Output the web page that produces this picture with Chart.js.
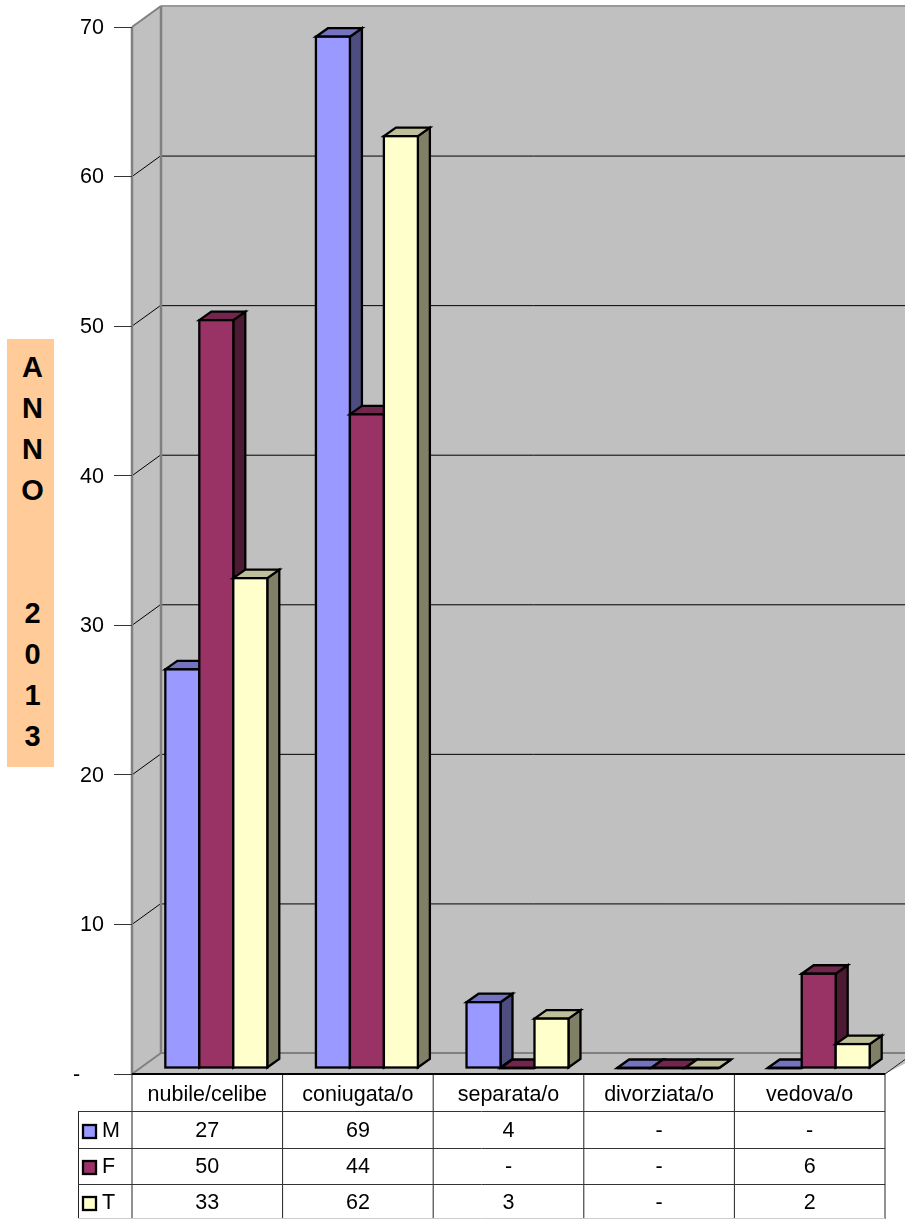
<!DOCTYPE html>
<html>
<head>
<meta charset="utf-8">
<title>Anno 2013</title>
<script src="https://cdn.jsdelivr.net/npm/chart.js@4"></script>
<style>
  html, body { margin: 0; padding: 0; background: #fff; overflow: hidden; }
  #wrap { position: relative; width: 905px; height: 1219px; }
  #chart { position: absolute; left: 0; top: 0; }
  #anno {
    position: absolute; left: 7px; top: 339px; width: 47px; height: 428px;
    background: #FFCC99; color: #000; text-align: center;
    font: bold 29px "Liberation Sans", Arial, sans-serif; line-height: 41px;
    white-space: pre-line; box-sizing: border-box; padding-top: 8px; padding-left: 4px;
  }
</style>
</head>
<body>
<div id="wrap">
  <canvas id="chart" width="905" height="1219"></canvas>
  <div id="anno">A
N
N
O


2
0
1
3</div>
</div>
<script>
/* values */
const categories = ['nubile/celibe', 'coniugata/o', 'separata/o', 'divorziata/o', 'vedova/o'];
const valuesM = [26.65, 68.95, 4.4, 0, 0];
const valuesF = [50, 43.7, 0, 0, 6.3];
const valuesT = [32.75, 62.3, 3.3, 0, 1.6];

/* rounded values printed in the table under the chart */
const tableM = ['27', '69', '4', '-', '-'];
const tableF = ['50', '44', '-', '-', '6'];
const tableT = ['33', '62', '3', '-', '2'];

const yTickLabels = ['-    ', '10', '20', '30', '40', '50', '60', '70'];

const FONT = '"Liberation Sans", Arial, sans-serif';
const FONT_SIZE = 21.5;

// depth of the box and of the bars
const WALL_DX = 29, WALL_DY = 21;
const BAR_SHIFT_X = 9, BAR_SHIFT_Y = 6;
const BAR_DX = 12, BAR_DY = 8.5;
const BAR_LINE = 2.3;

const seriesStyle = [
  { name: 'M', front: '#9999FF', top: '#7373BF', side: '#4D4D80', table: tableM },
  { name: 'F', front: '#993366', top: '#73264D', side: '#4D1A33', table: tableF },
  { name: 'T', front: '#FFFFCC', top: '#BFBF99', side: '#808066', table: tableT }
];

function poly(c, pts, fill, stroke, lw) {
  c.beginPath();
  pts.forEach((p, i) => i ? c.lineTo(p[0], p[1]) : c.moveTo(p[0], p[1]));
  c.closePath();
  if (fill) { c.fillStyle = fill; c.fill(); }
  if (stroke) { c.strokeStyle = stroke; c.lineWidth = lw; c.stroke(); }
}

function line(c, x1, y1, x2, y2, color, lw) {
  c.beginPath();
  c.moveTo(x1, y1);
  c.lineTo(x2, y2);
  c.strokeStyle = color;
  c.lineWidth = lw;
  c.stroke();
}

/* grey box behind the bars: left wall, back wall, floor and grid */
const boxPlugin = {
  id: 'box',
  beforeDraw(chart) {
    const c = chart.ctx, a = chart.chartArea, y = chart.scales.y;
    const bx = a.left + WALL_DX, W = chart.width + 20;
    c.save();
    poly(c, [[a.left, a.top], [bx, a.top - WALL_DY], [W, a.top - WALL_DY], [W, a.bottom - WALL_DY],
             [a.right, a.bottom], [a.left, a.bottom]], '#C0C0C0');
    y.ticks.forEach(t => {
      if (t.value === 0 || t.value === 70) return;
      const py = y.getPixelForValue(t.value);
      line(c, a.left, py, bx, py - WALL_DY, '#000', 1);
      line(c, bx, py - WALL_DY + 0.5, W, py - WALL_DY + 0.5, '#000', 1);
    });
    line(c, a.left, a.bottom, a.left, a.top, '#808080', 2.5);
    line(c, a.left, a.top, bx, a.top - WALL_DY, '#808080', 2);
    line(c, bx, a.top - WALL_DY, W, a.top - WALL_DY, '#999', 2);
    line(c, bx, a.top - WALL_DY, bx, a.bottom - WALL_DY, '#808080', 2.5);
    line(c, a.left, a.bottom, bx, a.bottom - WALL_DY, '#808080', 2);
    line(c, bx, a.bottom - WALL_DY, W, a.bottom - WALL_DY, '#808080', 2);
    line(c, a.right, a.bottom, a.right + WALL_DX, a.bottom - WALL_DY, '#222', 1);
    c.restore();
  }
};

/* extruded bars. The library paints datasets last-to-first, but here a bar has
   to cover the side of its left neighbour, so they are painted by hand, in order */
const barsPlugin = {
  id: 'bars3d',
  beforeDatasetDraw() {
    return false;
  },
  afterDatasetsDraw(chart) {
    const c = chart.ctx;
    c.save();
    c.translate(BAR_SHIFT_X, -BAR_SHIFT_Y);
    categories.forEach((cat, k) => {
      seriesStyle.forEach((st, i) => {
        const b = chart.getDatasetMeta(i).data[k];
        const l = b.x - b.width / 2, r = b.x + b.width / 2;
        poly(c, [[r, b.y], [r + BAR_DX, b.y - BAR_DY], [r + BAR_DX, b.base - BAR_DY], [r, b.base]], st.side, '#000', BAR_LINE);
        poly(c, [[l, b.y], [l + BAR_DX, b.y - BAR_DY], [r + BAR_DX, b.y - BAR_DY], [r, b.y]], st.top, '#000', BAR_LINE);
        b.draw(c);
        c.strokeStyle = '#000';
        c.lineWidth = BAR_LINE;
        c.strokeRect(l, b.y, b.width, b.base - b.y);
      });
    });
    c.restore();
  }
};

/* data table under the chart */
const tablePlugin = {
  id: 'dataTable',
  afterDraw(chart) {
    const c = chart.ctx, a = chart.chartArea, x = chart.scales.x;
    const rows = [1111, 1148, 1184];
    const rowMid = [1131, 1167, 1203];
    const leftX = 78;
    c.save();
    const step = (a.right - a.left) / categories.length;
    for (let i = 0; i <= categories.length; i++) {
      line(c, a.left + i * step, a.bottom, a.left + i * step, chart.height, '#222', 1);
    }
    line(c, leftX + 0.5, rows[0], leftX + 0.5, chart.height, '#222', 1);
    rows.forEach(ry => line(c, leftX, ry + 0.5, a.right, ry + 0.5, '#333', 1));
    line(c, leftX, 1218.5, a.right, 1218.5, '#ccc', 1);
    line(c, a.left, a.bottom, a.right, a.bottom, '#000', 2);

    c.font = FONT_SIZE + 'px ' + FONT;
    c.textBaseline = 'middle';
    seriesStyle.forEach((st, i) => {
      const my = rowMid[i];
      c.fillStyle = st.front;
      c.strokeStyle = '#000';
      c.lineWidth = 2.3;
      c.fillRect(83, my - 6, 13, 13);
      c.strokeRect(83, my - 6, 13, 13);
      c.fillStyle = '#000';
      c.textAlign = 'left';
      c.fillText(st.name, 102, my);
      c.textAlign = 'center';
      st.table.forEach((txt, k) => c.fillText(txt, x.getPixelForValue(k), my));
    });
    c.restore();
  }
};

function makeDataset(label, data, st) {
  return { label, data, backgroundColor: st.front, borderWidth: 0, clip: false };
}

new Chart(document.getElementById('chart'), {
  type: 'bar',
  data: {
    labels: categories,
    datasets: [
      makeDataset('M', valuesM, seriesStyle[0]),
      makeDataset('F', valuesF, seriesStyle[1]),
      makeDataset('T', valuesT, seriesStyle[2])
    ]
  },
  options: {
    responsive: false,
    animation: false,
    devicePixelRatio: 1,
    layout: { padding: { top: 27, right: 20, bottom: 0, left: 0 } },
    categoryPercentage: 0.677,
    barPercentage: 1,
    plugins: { legend: { display: false }, title: { display: false }, tooltip: { enabled: false } },
    scales: {
      x: {
        afterFit(s) { s.height = 145; },
        grid: { display: false, drawTicks: false },
        border: { display: false },
        ticks: { color: '#000', padding: 8, maxRotation: 0, font: { family: FONT, size: FONT_SIZE } }
      },
      y: {
        min: 0,
        max: 70,
        afterFit(s) { s.width = 132; },
        grid: { drawOnChartArea: false, tickLength: 18, tickColor: '#333', lineWidth: 1 },
        border: { display: false },
        ticks: {
          stepSize: 10,
          padding: 10,
          labelOffset: 1,
          color: '#000',
          font: { family: FONT, size: FONT_SIZE },
          callback: (v, i) => yTickLabels[i]
        }
      }
    }
  },
  plugins: [boxPlugin, barsPlugin, tablePlugin]
});
</script>
</body>
</html>
